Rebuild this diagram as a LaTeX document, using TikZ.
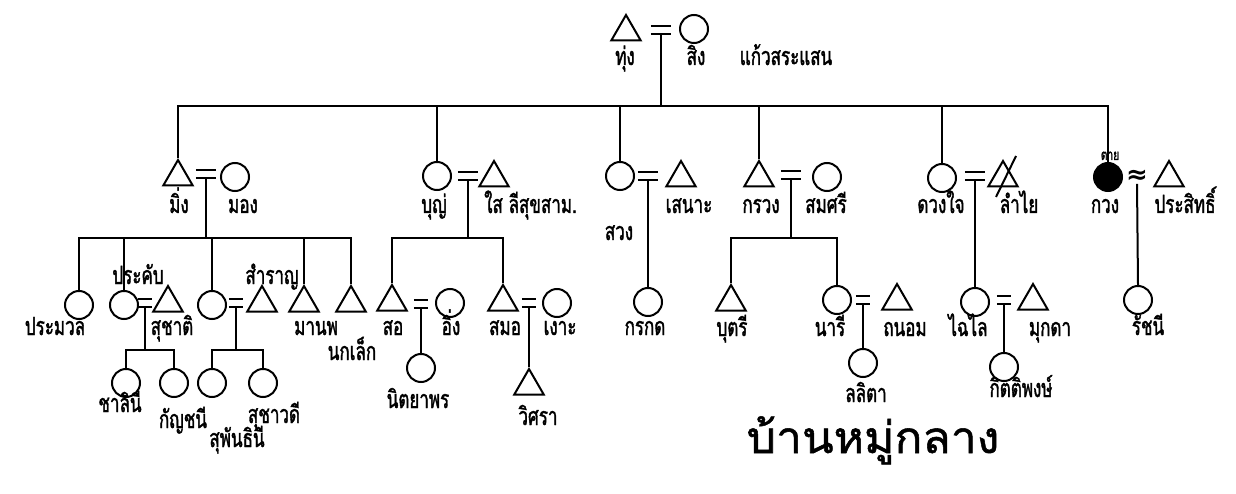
\documentclass[tikz,border=0pt]{standalone}
\usepackage{fontspec}
\setmainfont[Script=Thai, FakeStretch=0.68, FakeBold=1.5]{Loma}
\newfontfamily\titlefont[Script=Thai, FakeStretch=1.05, FakeBold=1.2]{Loma}
\newfontfamily\symfont{DejaVu Sans}
\usetikzlibrary{shapes.geometric, positioning}
\tikzset{
  kin/.style={line width=2pt},
  male/.style={draw, kin, regular polygon, regular polygon sides=3, minimum size=34pt, inner sep=0pt},
  female/.style={draw, kin, circle, minimum size=28pt, inner sep=0pt},
  gone/.style={female, fill=black},
  wed/.style={minimum width=20pt, minimum height=7pt, inner sep=0pt},
  tight/.style={wed, minimum width=14pt},
  tag/.style={anchor=base, inner sep=0pt, font=\fontsize{25}{27}\selectfont},
}
\begin{document}
\begin{tikzpicture}[x=1pt, y=-1pt]
        \useasboundingbox (0,0) rectangle (1236,494);
        \node[male] (thung) at (626,32) {};
        \node[wed] (w0) at (661,30) {};
        \node[female] (sing) at (694,29) {};
        \coordinate (g1) at (661,106);
        \draw[kin] (w0.south) -- (g1);

        \node[male] (ming) at (178,177) {};
        \node[wed] (w1) at (206,174) {};
        \node[female] (mong) at (235,177) {};
        \node[female] (bun) at (437,176) {};
        \node[wed] (w2) at (468,176) {};
        \node[male] (sai) at (494,178) {};
        \node[female] (suang) at (620,176) {};
        \node[wed] (w3) at (648,176) {};
        \node[male] (sanoh) at (681,178) {};
        \node[male] (kruang) at (759,178) {};
        \node[wed] (w4) at (791,175) {};
        \node[female] (somsri) at (827,177) {};
        \node[female] (duangjai) at (942,178) {};
        \node[wed] (w5) at (975,176) {};
        \node[male] (lamyai) at (1003,178) {};
        \node[gone] (kuang) at (1108,177) {};
        \node[inner sep=0pt, font=\symfont\bfseries\fontsize{26}{26}\selectfont] (w6) at (1137,177) {≈};
        \node[male] (prasit) at (1169,178) {};
        \foreach \n in {ming,bun,suang,kruang,duangjai,kuang}
            \draw[kin] (\n.north) |- (g1);
        \draw[kin] ([shift={(13,-22)}]lamyai.center) -- ([shift={(-7,19)}]lamyai.center);

        \node[female] (pramuan) at (79,305) {};
        \node[female] (prakhap) at (124,305) {};
        \node[tight] (w7) at (145,303) {};
        \node[male] (suchat) at (168,303) {};
        \node[female] (ying) at (212,305) {};
        \node[tight] (w8) at (236,303) {};
        \node[male] (samran) at (262,303) {};
        \node[male] (manop) at (304,303) {};
        \node[male] (nokklek) at (351,303) {};
        \coordinate (g2) at (206,238);
        \draw[kin] (w1.south) -- (g2);
        \foreach \n in {pramuan,prakhap,ying,manop,nokklek}
            \draw[kin] (\n.north) |- (g2);

        \node[female] (chalini) at (126,383) {};
        \node[female] (kanchani) at (174,383) {};
        \node[female] (suphan) at (212,383) {};
        \node[female] (suchawadi) at (263,383) {};
        \coordinate (g3) at (145,350);
        \coordinate (g4) at (236,350);
        \draw[kin] (w7.south) -- (g3) (w8.south) -- (g4);
        \foreach \n in {chalini,kanchani}
            \draw[kin] (\n.north) |- (g3);
        \foreach \n in {suphan,suchawadi}
            \draw[kin] (\n.north) |- (g4);

        \node[male] (so) at (392,302) {};
        \node[tight] (w9) at (421,304) {};
        \node[female] (ing) at (450,303) {};
        \node[male] (samo) at (503,302) {};
        \node[tight] (w10) at (529,303) {};
        \node[female] (ngo) at (557,303) {};
        \node[female] (nittaya) at (421,368) {};
        \node[male] (wisara) at (529,386) {};
        \coordinate (g5) at (468,238);
        \draw[kin] (w2.south) -- (g5);
        \foreach \n in {so,samo}
            \draw[kin] (\n.north) |- (g5);
        \draw[kin] (w9.south) -- (nittaya.north) (w10.south) -- (wisara.north);

        \node[female] (korakot) at (648,302) {};
        \draw[kin] (w3.south) -- (korakot.north);

        \node[male] (butsri) at (731,302) {};
        \node[female] (nari) at (837,300) {};
        \node[tight] (w11) at (863,300) {};
        \node[male] (thanom) at (897,301) {};
        \node[female] (lalita) at (863,363) {};
        \coordinate (g6) at (791,238);
        \draw[kin] (w4.south) -- (g6);
        \foreach \n in {butsri,nari}
            \draw[kin] (\n.north) |- (g6);
        \draw[kin] (w11.south) -- (lalita.north);

        \node[female] (chailai) at (975,302) {};
        \node[tight] (w12) at (1004,300) {};
        \node[male] (mukda) at (1033,301) {};
        \node[female] (kittipong) at (1004,367) {};
        \draw[kin] (w5.south) -- (chailai.north) (w12.south) -- (kittipong.north);

        \node[female] (rachani) at (1138,300) {};
        \draw[kin] (w6.south) -- (rachani.north);

        \foreach \w in {w0,w1,w2,w3,w4,w5,w7,w8,w9,w10,w11,w12}
            \draw[kin] (\w.north west) -- (\w.north east) (\w.south west) -- (\w.south east);

        \node[tag] (t-thung) at (625,65) {ทุ่ง};
        \node[tag] (t-sing) at (696,65) {สิง};
        \node[tag] (t-clan) at (786,65) {แก้วสระแสน};
        \node[tag] (t-ming) at (179,213) {มิ่ง};
        \node[tag] (t-mong) at (243,213) {มอง};
        \node[tag] (t-bun) at (434,213) {บุญ่};
        \node[tag, anchor=base west] (t-sai) at (484,213) {ใส ลีสุขสาม.};
        \node[tag] (t-suang) at (619,240) {สวง};
        \node[tag] (t-sanoh) at (689,213) {เสนาะ};
        \node[tag] (t-kruang) at (761,213) {กรวง};
        \node[tag] (t-somsri) at (826,213) {สมศรี};
        \node[tag] (t-duangjai) at (941,213) {ดวงใจ};
        \node[tag] (t-lamyai) at (1019,213) {ลำไย};
        \node[tag] (t-kuang) at (1105,213) {กวง};
        \node[tag] (t-prasit) at (1185,213) {ประสิทธิ์};
        \node[tag, font=\fontsize{15}{16}\selectfont] (t-dead) at (1110,160) {ตาย};
        \node[tag] (t-pramuan) at (55,335) {ประมวล};
        \node[tag] (t-prakhap) at (138,284) {ประคับ};
        \node[tag] (t-suchat) at (172,335) {สุชาติ};
        \node[tag] (t-samran) at (272,284) {สำราญ};
        \node[tag] (t-manop) at (316,335) {มานพ};
        \node[tag] (t-nokklek) at (352,360) {นกเล็ก};
        \node[tag] (t-so) at (393,335) {สอ};
        \node[tag] (t-ing) at (451,335) {อิ่ง};
        \node[tag] (t-samo) at (505,335) {สมอ};
        \node[tag] (t-ngo) at (560,335) {เงาะ};
        \node[tag] (t-korakot) at (645,335) {กรกด};
        \node[tag] (t-butsri) at (732,336) {บุตรี};
        \node[tag] (t-nari) at (830,336) {นารี};
        \node[tag] (t-thanom) at (905,336) {ถนอม};
        \node[tag] (t-chailai) at (968,336) {ไฉไล};
        \node[tag] (t-mukda) at (1050,336) {มุกดา};
        \node[tag] (t-rachani) at (1148,335) {รัชนี};
        \node[tag] (t-chalini) at (120,412) {ชาลินี};
        \node[tag] (t-kanchani) at (183,428) {กัญชนี};
        \node[tag] (t-suchawadi) at (274,423) {สุชาวดี};
        \node[tag] (t-suphan) at (237,447) {สุพันธินี};
        \node[tag] (t-nittaya) at (418,408) {นิตยาพร};
        \node[tag] (t-wisara) at (538,425) {วิศรา};
        \node[tag] (t-lalita) at (866,402) {ลลิตา};
        \node[tag] (t-kittipong) at (1021,397) {กิตติพงษ์};
        \node[tag, font=\titlefont\fontsize{44}{48}\selectfont] (title) at (873,453) {บ้านหมู่กลาง};

    \end{tikzpicture}
\end{document}
